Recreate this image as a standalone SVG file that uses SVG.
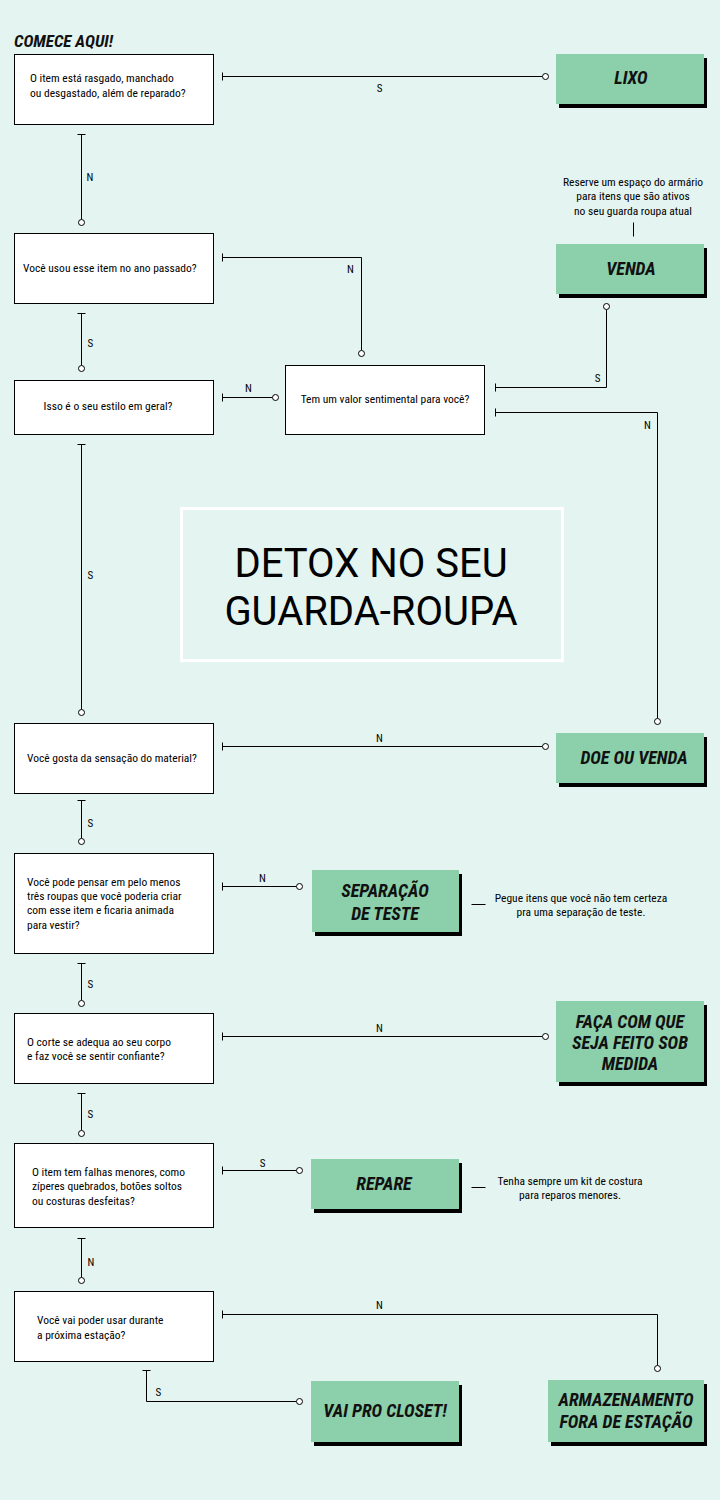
<svg xmlns="http://www.w3.org/2000/svg" width="720" height="1500" viewBox="0 0 720 1500">
<defs>
<style>
.bg{fill:#e4f4f0}
.q{fill:#fff;stroke:#000;stroke-width:1}
.sh{fill:#000}
.g{fill:#8ccfab}
.t{font-family:"Roboto Condensed","Liberation Sans Narrow","DejaVu Sans Condensed",Roboto,sans-serif;font-size:11.5px;fill:#000}
.n{font-family:"Roboto Condensed","Liberation Sans Narrow","DejaVu Sans Condensed",Roboto,sans-serif;font-size:11px;fill:#000}
.a{font-family:"Roboto Condensed","Liberation Sans Narrow","DejaVu Sans Condensed",Roboto,sans-serif;font-size:18px;font-weight:bold;font-style:italic;fill:#111;text-anchor:middle}
.c{fill:none;stroke:#000;stroke-width:1}
.dot{fill:#fff;stroke:#000;stroke-width:1}
.title{font-family:Roboto,"Liberation Sans",sans-serif;font-size:40px;fill:#000;text-anchor:middle}
.mid{text-anchor:middle}
</style>
</defs>
<rect class="bg" x="0" y="0" width="720" height="1500"/>
<text x="14" y="47" class="a" style="text-anchor:start;font-size:17px">COMECE AQUI!</text>

<g id="title">
<rect x="181.5" y="508.5" width="381" height="152" fill="none" stroke="#fff" stroke-width="3"/>
<text x="371" y="577" class="title">DETOX NO SEU</text>
<text x="371" y="625" class="title">GUARDA-ROUPA</text>
</g>

<g id="connectors" transform="translate(0.5 0.5)">
<path class="c" d="M222 72v8M222 76H542"/><circle class="dot" cx="545" cy="76" r="3"/>
<text x="379" y="91" class="n mid">S</text>
<path class="c" d="M77 134h8M81 134V219"/><circle class="dot" cx="81" cy="222" r="3"/>
<text x="86" y="180" class="n">N</text>
<path class="c" d="M222 253v8M222 257H361V350"/><circle class="dot" cx="361" cy="353" r="3"/>
<text x="350" y="272" class="n mid">N</text>
<path class="c" d="M633 222V236"/>
<path class="c" d="M495 383v8M495 387H606V309"/><circle class="dot" cx="606" cy="306" r="3"/>
<text x="597" y="381" class="n mid">S</text>
<path class="c" d="M77 313h8M81 313V365"/><circle class="dot" cx="81" cy="368" r="3"/>
<text x="87" y="346" class="n">S</text>
<path class="c" d="M222 393v8M222 397H272"/><circle class="dot" cx="275" cy="397" r="3"/>
<text x="248" y="391" class="n mid">N</text>
<path class="c" d="M495 408v8M495 412H657V718"/><circle class="dot" cx="657" cy="721" r="3"/>
<text x="647" y="428" class="n mid">N</text>
<path class="c" d="M77 444h8M81 444V709"/><circle class="dot" cx="81" cy="712" r="3"/>
<text x="87" y="578" class="n">S</text>
<path class="c" d="M222 742v8M222 746H542"/><circle class="dot" cx="545" cy="746" r="3"/>
<text x="379" y="741" class="n mid">N</text>
<path class="c" d="M77 800h8M81 800V838"/><circle class="dot" cx="81" cy="841" r="3"/>
<text x="87" y="826" class="n">S</text>
<path class="c" d="M222 882v8M222 886H296"/><circle class="dot" cx="299" cy="886" r="3"/>
<text x="262" y="881" class="n mid">N</text>
<path class="c" d="M471 904H485"/>
<path class="c" d="M77 963h8M81 963V1000"/><circle class="dot" cx="81" cy="1003" r="3"/>
<text x="87" y="987" class="n">S</text>
<path class="c" d="M222 1032v8M222 1036H542"/><circle class="dot" cx="545" cy="1036" r="3"/>
<text x="379" y="1031" class="n mid">N</text>
<path class="c" d="M77 1093h8M81 1093V1130"/><circle class="dot" cx="81" cy="1133" r="3"/>
<text x="87" y="1117" class="n">S</text>
<path class="c" d="M222 1166v8M222 1170H296"/><circle class="dot" cx="299" cy="1170" r="3"/>
<text x="262" y="1166" class="n mid">S</text>
<path class="c" d="M471 1187H485"/>
<path class="c" d="M77 1238h8M81 1238V1277"/><circle class="dot" cx="81" cy="1280" r="3"/>
<text x="87" y="1265" class="n">N</text>
<path class="c" d="M222 1310v8M222 1314H657V1365"/><circle class="dot" cx="657" cy="1368" r="3"/>
<text x="379" y="1308" class="n mid">N</text>
<path class="c" d="M142 1370h8M146 1370V1401H296"/><circle class="dot" cx="299" cy="1401" r="3"/>
<text x="155" y="1395" class="n">S</text>
</g>

<g id="q1"><rect class="q" x="14.5" y="54.5" width="199" height="70"/>
<text class="t" x="30" y="82">O item está rasgado, manchado</text>
<text class="t" x="30" y="97">ou desgastado, além de reparado?</text></g>

<g id="lixo"><rect class="sh" x="559" y="58" width="148" height="50"/><rect class="g" x="556" y="54" width="148" height="50"/>
<text class="a" x="631" y="84">LIXO</text></g>

<g id="q2"><rect class="q" x="14.5" y="233.5" width="199" height="70"/>
<text class="t" x="23" y="272">Você usou esse item no ano passado?</text></g>

<g id="venda-note">
<text class="t mid" x="633" y="186">Reserve um espaço do armário</text>
<text class="t mid" x="633" y="200">para itens que são ativos</text>
<text class="t mid" x="633" y="215">no seu guarda roupa atual</text></g>

<g id="venda"><rect class="sh" x="559" y="248" width="148" height="50"/><rect class="g" x="556" y="244" width="148" height="50"/>
<text class="a" x="631" y="275">VENDA</text></g>

<g id="q3"><rect class="q" x="14.5" y="380.5" width="199" height="54"/>
<text class="t mid" x="108" y="410">Isso é o seu estilo em geral?</text></g>

<g id="q4"><rect class="q" x="285.5" y="365.5" width="199" height="69"/>
<text class="t mid" x="385" y="403">Tem um valor sentimental para você?</text></g>

<g id="q5"><rect class="q" x="14.5" y="723.5" width="199" height="70"/>
<text class="t" x="27" y="762">Você gosta da sensação do material?</text></g>

<g id="doe"><rect class="sh" x="559" y="737" width="148" height="50"/><rect class="g" x="556" y="733" width="148" height="50"/>
<text class="a" x="634" y="764">DOE OU VENDA</text></g>

<g id="q6"><rect class="q" x="14.5" y="853.5" width="199" height="100"/>
<text class="t" x="27" y="886">Você pode pensar em pelo menos</text>
<text class="t" x="27" y="900">três roupas que você poderia criar</text>
<text class="t" x="27" y="914">com esse item e ficaria animada</text>
<text class="t" x="27" y="929">para vestir?</text></g>

<g id="sep"><rect class="sh" x="315" y="874" width="147" height="62"/><rect class="g" x="312" y="870" width="147" height="62"/>
<text class="a" x="385" y="897">SEPARAÇÃO</text>
<text class="a" x="385" y="920">DE TESTE</text></g>

<g id="sep-note">
<text class="t mid" x="581" y="902">Pegue itens que você não tem certeza</text>
<text class="t mid" x="581" y="916">pra uma separação de teste.</text></g>

<g id="q7"><rect class="q" x="14.5" y="1013.5" width="199" height="70"/>
<text class="t" x="27" y="1046">O corte se adequa ao seu corpo</text>
<text class="t" x="27" y="1060">e faz você se sentir confiante?</text></g>

<g id="faca"><rect class="sh" x="559" y="1005" width="148" height="81"/><rect class="g" x="556" y="1001" width="148" height="81"/>
<text class="a" x="630" y="1028">FAÇA COM QUE</text>
<text class="a" x="630" y="1049">SEJA FEITO SOB</text>
<text class="a" x="630" y="1070">MEDIDA</text></g>

<g id="q8"><rect class="q" x="14.5" y="1143.5" width="199" height="84"/>
<text class="t" x="32" y="1176">O item tem falhas menores, como</text>
<text class="t" x="32" y="1190">zíperes quebrados, botões soltos</text>
<text class="t" x="32" y="1205">ou costuras desfeitas?</text></g>

<g id="repare"><rect class="sh" x="314" y="1163" width="148" height="50"/><rect class="g" x="311" y="1159" width="148" height="50"/>
<text class="a" x="384" y="1190">REPARE</text></g>

<g id="repare-note">
<text class="t mid" x="570" y="1185">Tenha sempre um kit de costura</text>
<text class="t mid" x="570" y="1199">para reparos menores.</text></g>

<g id="q9"><rect class="q" x="14.5" y="1291.5" width="199" height="70"/>
<text class="t" x="37" y="1324">Você vai poder usar durante</text>
<text class="t" x="37" y="1339">a próxima estação?</text></g>

<g id="closet"><rect class="sh" x="314" y="1385" width="148" height="61"/><rect class="g" x="311" y="1381" width="148" height="61"/>
<text class="a" x="385" y="1417">VAI PRO CLOSET!</text></g>

<g id="armaz"><rect class="sh" x="551" y="1384" width="156" height="62"/><rect class="g" x="548" y="1380" width="156" height="62"/>
<text class="a" x="626" y="1406">ARMAZENAMENTO</text>
<text class="a" x="626" y="1428">FORA DE ESTAÇÃO</text></g>
</svg>
